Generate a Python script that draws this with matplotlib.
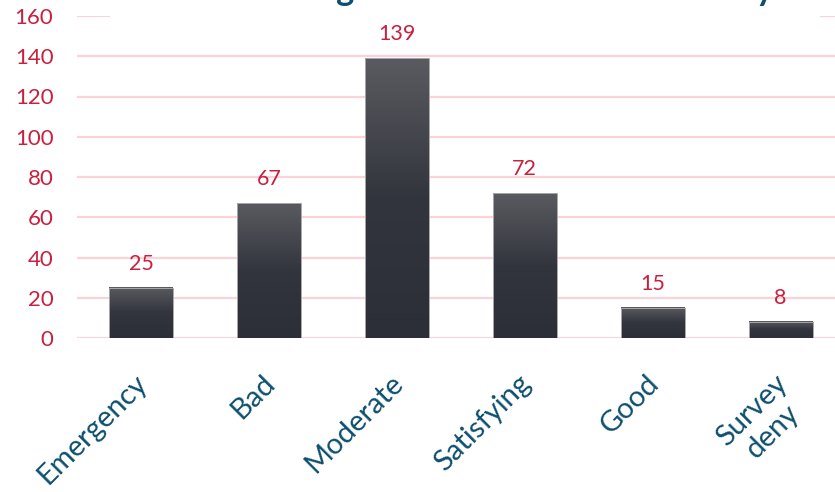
import matplotlib
matplotlib.use("Agg")
import matplotlib.pyplot as plt
import matplotlib.transforms as mtransforms
from matplotlib.patches import Rectangle
from matplotlib.font_manager import FontProperties
import numpy as np
from matplotlib.colors import LinearSegmentedColormap

categories = ["Emergency", "Bad", "Moderate", "Satisfying", "Good", "Survey\ndeny"]
values = [25, 67, 139, 72, 15, 8]
yticks = [0, 20, 40, 60, 80, 100, 120, 140, 160]
title = "Rating of the health of the society"

RED = "#c8203f"
BLUE = "#0d4f6e"
GRID = "#f8d3da"

plt.rcParams['font.family'] = ['Lato', 'DejaVu Sans']

fig = plt.figure(figsize=(8.35, 4.92), dpi=100)
W, H = 835, 492
left, right = 77, 844.5
bottom, top = 338, 16
ax = fig.add_axes([left / W, 1 - bottom / H, (right - left) / W, (bottom - top) / H])

x = np.arange(len(categories))
bars = ax.bar(x, values, width=0.5, facecolor="none", edgecolor="#a8a8a8", linewidth=0.7, zorder=3)

cmap = LinearSegmentedColormap.from_list("g", [(0, "#2d2f38"), (0.5, "#33353e"), (1, "#5a5b60")])
grad = np.linspace(0, 1, 256).reshape(-1, 1)
for b in bars:
    x0, w, h = b.get_x(), b.get_width(), b.get_height()
    ax.imshow(grad, extent=(x0, x0 + w, 0, h), origin="lower", aspect="auto", cmap=cmap, zorder=2)

ax.set_xlim(-0.5, len(categories) - 0.5)
ax.set_ylim(0, 160)
ax.set_yticks(yticks)
ax.yaxis.grid(True, color=GRID, linewidth=1.6, zorder=0)
ax.set_axisbelow(True)
for s in ax.spines.values():
    s.set_visible(False)
ax.tick_params(axis="y", length=0, pad=17, labelsize=16, labelcolor=RED)
ax.tick_params(axis="x", length=0, pad=23)
ax.set_xticks(x)
ax.set_xticklabels(categories, rotation=45, ha="right", rotation_mode="anchor",
                   fontsize=21, color=BLUE, ma="center")
off = mtransforms.ScaledTranslation(-7 / 100, 0, fig.dpi_scale_trans)
for lab in ax.get_xticklabels():
    lab.set_transform(lab.get_transform() + off)

for xi, v in zip(x, values):
    ax.annotate(str(v), (xi, v), xytext=(0, 10), textcoords="offset points",
                ha="center", va="bottom", fontsize=15.5, color=RED)

# cropped title: place it so that only its descenders show, as in the reference
renderer = fig.canvas.get_renderer()
base = 34.0
fp = FontProperties(family="Lato", weight="bold", size=base)
def tw(s):
    return renderer.get_text_width_height_descent(s, fp, ismath=False)[0]
gi = title.index("g")
yi = title.rindex("y")
g_c = tw(title[:gi]) + tw("g") / 2
y_c = tw(title[:yi]) + tw("y") / 2
scale = (765 - 345) / (y_c - g_c)
size = base * scale
x_start = 345 - g_c * scale
fig.patches.append(Rectangle((110 / W, 1 - 22 / H), 710 / W, 22 / H, transform=fig.transFigure,
                             facecolor="white", edgecolor="none", zorder=2))
fig.text(x_start / W, 1 + 0.5 / H, title, ha="left", va="baseline", fontsize=size, fontweight="bold",
         color=BLUE, zorder=3)

fig.savefig("out.png", dpi=100)
